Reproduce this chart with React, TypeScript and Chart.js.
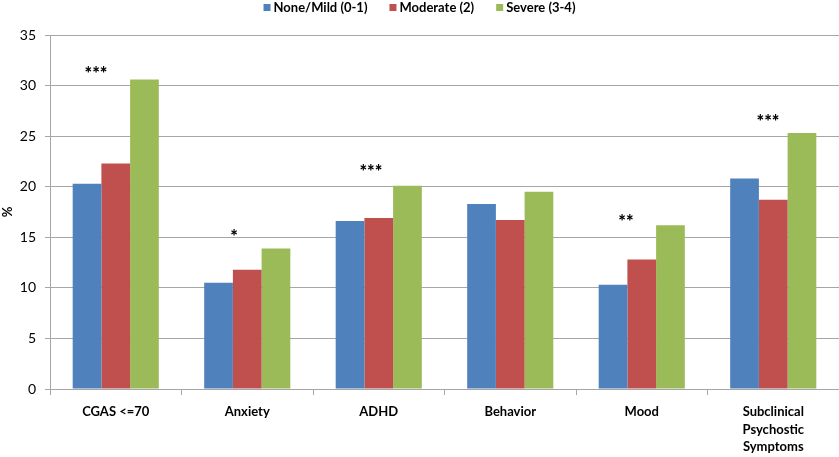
import React, { useEffect, useRef } from "react";
import { Chart, registerables } from "chart.js";

Chart.register(...registerables);

const categories: (string | string[])[] = [
  "CGAS <=70",
  "Anxiety",
  "ADHD",
  "Behavior",
  "Mood",
  ["Subclinical", "Psychostic", "Symptoms"],
];
const seriesNames = ["None/Mild (0-1)", "Moderate (2)", "Severe (3-4)"];
const noneMild = [20.3, 10.5, 16.6, 18.3, 10.3, 20.8];
const moderate = [22.3, 11.8, 16.9, 16.7, 12.8, 18.7];
const severe = [30.6, 13.9, 20.1, 19.5, 16.2, 25.3];
const sigLabels = ["***", "*", "***", "", "**", "***"];
const sigLevel = [31.55, 15.5, 21.9, 0, 17.0, 26.85];
// horizontal offset of each significance marker, in category widths from the category centre
const sigOffset = [-0.15, -0.1, -0.06, 0, -0.12, -0.04];
const yTicks = [0, 5, 10, 15, 20, 25, 30, 35];

const colors = ["#4F81BD", "#C0504D", "#9BBB59"];
const FONT = "Lato, 'Liberation Sans', sans-serif";

const sigPlugin = {
  id: "sigPlugin",
  afterDatasetsDraw(chart: any) {
    const ctx = chart.ctx;
    const xs = chart.scales.x;
    const ys = chart.scales.y;
    const catW = xs.width / categories.length;
    ctx.save();
    ctx.fillStyle = "#000";
    ctx.font = `900 18px ${FONT}`;
    ctx.textAlign = "center";
    ctx.textBaseline = "alphabetic";
    sigLabels.forEach((s, i) => {
      if (!s) return;
      const m = ctx.measureText(s);
      const x = xs.getPixelForValue(i) + sigOffset[i] * catW;
      const y = ys.getPixelForValue(sigLevel[i]);
      ctx.fillText(s, x, y + (m.actualBoundingBoxAscent - m.actualBoundingBoxDescent) / 2);
    });
    ctx.restore();
  },
};

const legendPlugin = {
  id: "customLegend",
  afterDraw(chart: any) {
    const ctx = chart.ctx;
    ctx.save();
    ctx.font = `bold 13px ${FONT}`;
    const box = 7;
    const gapBoxText = 3;
    const itemGap = 22;
    const widths = seriesNames.map((n) => ctx.measureText(n).width);
    const total =
      widths.reduce((a, b) => a + b, 0) +
      seriesNames.length * (box + gapBoxText) +
      itemGap * (seriesNames.length - 1);
    let x = chart.width / 2 - total / 2;
    const yc = 7.5;
    ctx.textBaseline = "middle";
    ctx.textAlign = "left";
    seriesNames.forEach((n, i) => {
      ctx.fillStyle = colors[i];
      ctx.fillRect(x, yc - box / 2, box, box);
      x += box + gapBoxText;
      ctx.fillStyle = "#000";
      ctx.fillText(n, x, yc + 0.5);
      x += widths[i] + itemGap;
    });
    ctx.restore();
  },
};

export default function App() {
  const ref = useRef<HTMLCanvasElement>(null);
  useEffect(() => {
    document.body.style.margin = "0";
    const chart = new Chart(ref.current!, {
      type: "bar",
      data: {
        labels: categories,
        datasets: [noneMild, moderate, severe].map((d, i) => ({
          label: seriesNames[i],
          data: d,
          backgroundColor: colors[i],
          borderWidth: 0,
          barPercentage: 1,
          categoryPercentage: 0.655,
        })),
      },
      options: {
        animation: false,
        responsive: false,
        maintainAspectRatio: false,
        layout: { padding: { left: 0, right: 0, top: 35, bottom: 0 } },
        plugins: {
          legend: { display: false },
          tooltip: { enabled: false },
        },
        scales: {
          x: {
            afterFit: (axis: any) => {
              axis.height = 68;
            },
            grid: {
              offset: true,
              drawOnChartArea: false,
              drawTicks: true,
              tickLength: 6,
              color: "#A6A6A6",
            },
            border: { color: "#A6A6A6" },
            ticks: {
              color: "#000",
              maxRotation: 0,
              autoSkip: false,
              padding: 8,
              font: { family: FONT, size: 13, weight: "bold", lineHeight: 1.35 },
            },
          },
          y: {
            min: 0,
            max: 35,
            afterFit: (axis: any) => {
              axis.width = 50;
            },
            afterBuildTicks: (axis: any) => {
              axis.ticks = yTicks.map((v) => ({ value: v }));
            },
            grid: { color: "#A6A6A6", drawTicks: true, tickLength: 5 },
            border: { color: "#A6A6A6" },
            ticks: {
              color: "#000",
              padding: 9,
              font: { family: FONT, size: 14 },
            },
            title: {
              display: true,
              text: "%",
              color: "#000",
              padding: { top: 0, bottom: 0 },
              font: { family: FONT, size: 13, weight: "bold" },
            },
          },
        },
      },
      plugins: [sigPlugin, legendPlugin],
    });
    return () => chart.destroy();
  }, []);
  return (
    <div style={{ width: 839, height: 457 }}>
      <canvas ref={ref} width={839} height={457} />
    </div>
  );
}
